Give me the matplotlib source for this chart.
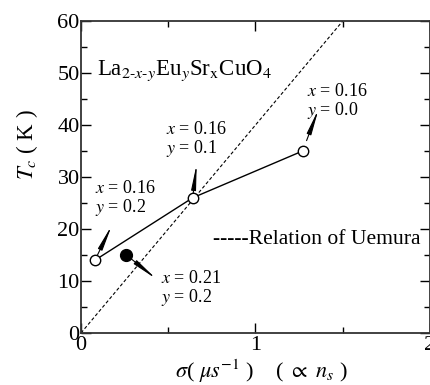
import matplotlib
matplotlib.use("Agg")
import matplotlib.pyplot as plt
from matplotlib.ticker import MultipleLocator

plt.rcParams['font.family'] = ['Liberation Serif', 'DejaVu Serif']
plt.rcParams['mathtext.fontset'] = 'stix'

# Data
open_sigma = [0.08, 0.64, 1.27]
open_tc = [14, 26, 35]
filled_sigma = [0.26]
filled_tc = [15]
uemura_sigma = [0.0, 1.5]
uemura_tc = [0.0, 60.0]

labels_open = ["$x$ = 0.16\n$y$ = 0.2", "$x$ = 0.16\n$y$ = 0.1", "$x$ = 0.16\n$y$ = 0.0"]
label_pos_open = [(0.08, 25.8), (0.487, 37.1), (1.295, 44.4)]
arrow_off_open = [(12.2, 25.2), (2.9, 24.5), (11.5, 30.2)]
arrow_gap_open = [4.0, 3.5, 8.0]
label_filled = "$x$ = 0.21\n$y$ = 0.2"
label_pos_filled = (0.458, 8.5)
arrow_off_filled = (21.6, -17.3)

fig = plt.figure(figsize=(4.31, 3.85), dpi=100)
ax = fig.add_axes([81/431, 52/385, 349/431, 312/385])

ax.plot(uemura_sigma, uemura_tc, color='k', lw=0.8, dashes=(3, 2))
ax.plot(open_sigma, open_tc, color='k', lw=1.0, marker='o', ms=7.5,
        mfc='white', mec='k', mew=1.0, zorder=3)
ax.plot(filled_sigma, filled_tc, ls='none', marker='o', ms=8.5,
        mfc='k', mec='k', zorder=3)

ax.set_xlim(0, 2)
ax.set_ylim(0, 60)
ax.xaxis.set_major_locator(MultipleLocator(1))
ax.xaxis.set_minor_locator(MultipleLocator(0.5))
ax.yaxis.set_major_locator(MultipleLocator(10))
ax.yaxis.set_minor_locator(MultipleLocator(5))
ax.tick_params(which='both', direction='in', top=True, right=True,
               colors='k', labelsize=16)
ax.tick_params(which='major', length=7, width=1.0)
ax.tick_params(which='minor', length=4, width=1.0)
ax.tick_params(axis='x', pad=2)
ax.tick_params(axis='y', pad=1)
for s in ax.spines.values():
    s.set_linewidth(1.3)
    s.set_color('#333333')

for (lx, ly), txt in zip(label_pos_open, labels_open):
    ax.text(lx, ly, txt, fontsize=13, ha='left', va='center', linespacing=1.0)
ax.text(label_pos_filled[0], label_pos_filled[1], label_filled, fontsize=13,
        ha='left', va='center', linespacing=1.0)

astyle = '<|-,head_length=1.5,head_width=0.14'
for sx, ty, off, gap in zip(open_sigma, open_tc, arrow_off_open, arrow_gap_open):
    ax.annotate('', xy=(sx, ty), xytext=off, textcoords='offset points',
                arrowprops=dict(arrowstyle=astyle, color='k', lw=0.8,
                                shrinkA=0, shrinkB=gap))
ax.annotate('', xy=(filled_sigma[0], filled_tc[0]), xytext=arrow_off_filled,
            textcoords='offset points',
            arrowprops=dict(arrowstyle=astyle, color='k', lw=0.8,
                            shrinkA=0, shrinkB=4.5))

ax.text(0.094, 50.5, r'La$_{2\text{-}x\text{-}y}$Eu$_{y}$Sr$_{\mathrm{x}}$CuO$_{4}$',
        fontsize=16.5, ha='left', va='center')
ax.text(0.756, 17.9, '-----Relation of Uemura', fontsize=15.6, ha='left', va='center')

fig.text(27/431, 1 - 145/385, r'$T_c$ ( K )', rotation=90, fontsize=16.5,
         ha='center', va='center')
fig.text(261/431, 1 - 371/385,
         r'$\sigma$( $\mu s^{\mathrm{-1}}$ )    ( $\propto$ $n_s$ )',
         fontsize=16, ha='center', va='center')

fig.savefig('out.png', dpi=100)
